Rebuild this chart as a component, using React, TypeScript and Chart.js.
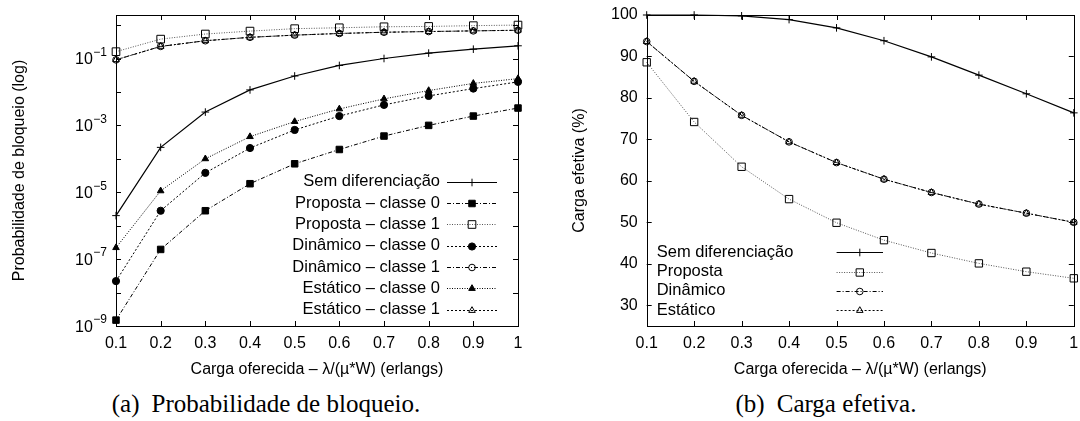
import React, { useEffect, useRef } from 'react';
import { Chart, registerables } from 'chart.js';
import { drawPoint } from 'chart.js/helpers';

Chart.register(...registerables);

const FONT = '"Liberation Sans", Arial, Helvetica, sans-serif';
const SERIF = '"Liberation Serif", "Times New Roman", Times, serif';

// ---------- data ----------
const cargaOferecida = [0.1, 0.2, 0.3, 0.4, 0.5, 0.6, 0.7, 0.8, 0.9, 1.0];
const xTickValues = [0.1, 0.2, 0.3, 0.4, 0.5, 0.6, 0.7, 0.8, 0.9, 1.0];
const bloqLabelExponents = [-9, -7, -5, -3, -1];
const bloqTickExponents = [-9, -8, -7, -6, -5, -4, -3, -2, -1, 0];
const cargaTickValues = [30, 40, 50, 60, 70, 80, 90, 100];

// (a) Probabilidade de bloqueio
const semDifBloqueio = [2.0e-6, 2.2e-4, 2.5e-3, 1.15e-2, 3.0e-2, 6.2e-2, 0.1, 0.145, 0.19, 0.24];
const propostaC0Bloqueio = [1.5e-9, 1.95e-7, 2.8e-6, 1.8e-5, 7.1e-5, 1.9e-4, 4.8e-4, 1.0e-3, 1.9e-3, 3.3e-3];
const propostaC1Bloqueio = [0.16, 0.38, 0.54, 0.66, 0.78, 0.83, 0.89, 0.91, 0.96, 1.0];
const dinamicoC0Bloqueio = [2.2e-8, 2.8e-6, 3.8e-5, 2.1e-4, 7.3e-4, 1.9e-3, 4.1e-3, 7.6e-3, 1.26e-2, 2.0e-2];
const dinamicoC1Bloqueio = [0.091, 0.23, 0.34, 0.43, 0.5, 0.56, 0.61, 0.64, 0.67, 0.7];
const estaticoC0Bloqueio = [2.2e-7, 1.1e-5, 1.0e-4, 4.6e-4, 1.3e-3, 3.1e-3, 6.2e-3, 1.1e-2, 1.8e-2, 2.5e-2];
const estaticoC1Bloqueio = [0.092, 0.23, 0.34, 0.43, 0.5, 0.56, 0.61, 0.64, 0.67, 0.7];

const legendA = [
  'Sem diferenciação',
  'Proposta – classe 0',
  'Proposta – classe 1',
  'Dinâmico – classe 0',
  'Dinâmico – classe 1',
  'Estático – classe 0',
  'Estático – classe 1',
];

// (b) Carga efetiva
const semDifCarga = [100, 100, 99.8, 98.9, 96.9, 93.8, 89.9, 85.5, 81.0, 76.4];
const propostaCarga = [88.6, 74.2, 63.4, 55.6, 49.9, 45.7, 42.6, 40.1, 38.1, 36.5];
const dinamicoCarga = [93.6, 84.0, 75.8, 69.4, 64.4, 60.4, 57.2, 54.4, 52.2, 50.0];
const estaticoCarga = [93.6, 84.0, 75.8, 69.4, 64.4, 60.4, 57.2, 54.4, 52.2, 50.0];

const legendB = ['Sem diferenciação', 'Proposta', 'Dinâmico', 'Estático'];

const xTitle = 'Carga oferecida – λ/(µ*W) (erlangs)';

// ---------- helpers ----------
const pts = (ys: number[]) => cargaOferecida.map((x, i) => ({ x, y: ys[i] }));

type Style = {
  dash: number[];
  color: string;
  width: number;
  point: string;
  radius: number;
  filled: boolean;
};

const ds = (label: string, ys: number[], s: Style) => ({
  label,
  data: pts(ys),
  borderColor: s.color,
  borderWidth: s.width,
  borderDash: s.dash,
  pointStyle: s.point,
  pointRadius: s.radius,
  pointHoverRadius: s.radius,
  pointBorderWidth: 1,
  pointBorderColor: '#000',
  pointBackgroundColor: s.filled ? '#000' : 'rgba(0,0,0,0)',
  tension: 0,
  fill: false,
  clip: false,
});

type DecorOpts = {
  xTicks: number[];
  yTicks: number[];
  tickLen: number;
  logLabels?: number[];
  legend: {
    align: 'left' | 'right';
    textX: number;
    lineX0: number;
    lineX1: number;
    rowY0: number;
    rowStep: number;
    font: number;
  };
};

const makeDecor = (o: DecorOpts) => ({
  id: 'gnuplotDecor',
  afterDatasetsDraw(chart: any) {
    const { ctx, chartArea: a, scales } = chart;
    const xs = scales.x;
    const ys = scales.y;
    ctx.save();
    ctx.strokeStyle = '#000';
    ctx.lineWidth = 1;
    ctx.setLineDash([]);
    const L = o.tickLen;
    ctx.beginPath();
    for (const v of o.xTicks) {
      const px = Math.round(xs.getPixelForValue(v)) + 0.5;
      ctx.moveTo(px, a.bottom);
      ctx.lineTo(px, a.bottom - L);
      ctx.moveTo(px, a.top);
      ctx.lineTo(px, a.top + L);
    }
    for (const v of o.yTicks) {
      const py = Math.round(ys.getPixelForValue(v)) + 0.5;
      ctx.moveTo(a.left, py);
      ctx.lineTo(a.left + L, py);
      ctx.moveTo(a.right, py);
      ctx.lineTo(a.right - L, py);
    }
    ctx.stroke();
    ctx.strokeRect(Math.round(a.left) + 0.5, Math.round(a.top) + 0.5, Math.round(a.right - a.left), Math.round(a.bottom - a.top));

    // log tick labels 10^e
    if (o.logLabels) {
      ctx.fillStyle = '#000';
      ctx.textBaseline = 'middle';
      for (const e of o.logLabels) {
        const py = ys.getPixelForValue(Math.pow(10, e));
        const exp = '−' + String(-e);
        ctx.font = `12px ${FONT}`;
        const ew = ctx.measureText(exp).width;
        const right = a.left - 9;
        ctx.textAlign = 'left';
        ctx.fillText(exp, right - ew, py - 6);
        ctx.font = `16px ${FONT}`;
        ctx.textAlign = 'right';
        ctx.fillText('10', right - ew - 0.5, py + 1.5);
      }
    }

    // gnuplot style legend
    const lg = o.legend;
    chart.data.datasets.forEach((d: any, i: number) => {
      const y = lg.rowY0 + i * lg.rowStep;
      ctx.fillStyle = '#000';
      ctx.font = `${lg.font}px ${FONT}`;
      ctx.textBaseline = 'middle';
      ctx.textAlign = lg.align;
      ctx.fillText(d.label, lg.textX, y);
      ctx.save();
      ctx.strokeStyle = d.borderColor;
      ctx.lineWidth = d.borderWidth;
      ctx.setLineDash(d.borderDash || []);
      ctx.beginPath();
      ctx.moveTo(lg.lineX0, Math.round(y) + 0.5);
      ctx.lineTo(lg.lineX1, Math.round(y) + 0.5);
      ctx.stroke();
      ctx.setLineDash([]);
      ctx.strokeStyle = '#000';
      ctx.fillStyle = d.pointBackgroundColor;
      ctx.lineWidth = 1;
      drawPoint(ctx, { pointStyle: d.pointStyle, radius: d.pointRadius, rotation: 0, borderWidth: 1 } as any, (lg.lineX0 + lg.lineX1) / 2, Math.round(y) + 0.5);
      ctx.restore();
    });
    ctx.restore();
  },
});

const tickFmt = (v: number) => String(Math.round(v * 10) / 10);

// ---------- chart components ----------
function BloqueioChart() {
  const ref = useRef<HTMLCanvasElement | null>(null);
  useEffect(() => {
    if (!ref.current) return;
    const chart = new Chart(ref.current, {
      type: 'line',
      data: {
        datasets: [
          ds(legendA[0], semDifBloqueio, { dash: [], color: '#000', width: 1.2, point: 'cross', radius: 3.8, filled: false }),
          ds(legendA[1], propostaC0Bloqueio, { dash: [4, 2, 1, 2], color: '#000', width: 1, point: 'rect', radius: 4.6, filled: true }),
          ds(legendA[2], propostaC1Bloqueio, { dash: [1, 1.5], color: '#555', width: 1, point: 'rect', radius: 5.4, filled: false }),
          ds(legendA[3], dinamicoC0Bloqueio, { dash: [2, 2], color: '#000', width: 1, point: 'circle', radius: 3.6, filled: true }),
          ds(legendA[4], dinamicoC1Bloqueio, { dash: [4, 2, 1, 2], color: '#000', width: 1, point: 'circle', radius: 3.3, filled: false }),
          ds(legendA[5], estaticoC0Bloqueio, { dash: [1, 1.5], color: '#000', width: 1, point: 'triangle', radius: 3.8, filled: true }),
          ds(legendA[6], estaticoC1Bloqueio, { dash: [2, 2], color: '#000', width: 1, point: 'triangle', radius: 3.8, filled: false }),
        ],
      },
      options: {
        responsive: false,
        animation: false,
        events: [],
        layout: { padding: { top: 15, right: 22, left: 0, bottom: 0 } },
        plugins: { legend: { display: false }, tooltip: { enabled: false } },
        scales: {
          x: {
            type: 'linear',
            min: 0.1,
            max: 1.0,
            afterBuildTicks: (s: any) => { s.ticks = xTickValues.map((value) => ({ value })); },
            afterFit: (s: any) => { s.height = 64; s.paddingLeft = 0; s.paddingRight = 0; },
            grid: { display: false, drawTicks: false },
            border: { display: false },
            ticks: { padding: 8, color: '#000', font: { family: FONT, size: 16 }, maxRotation: 0, autoSkip: false, callback: (v: any) => tickFmt(Number(v)) },
            title: { display: true, text: xTitle, color: '#000', font: { family: FONT, size: 16 }, padding: { top: 0, bottom: 11 } },
          },
          y: {
            type: 'logarithmic',
            min: 1e-9,
            max: 2,
            afterBuildTicks: (s: any) => { s.ticks = bloqLabelExponents.map((e) => ({ value: Math.pow(10, e) })); },
            afterFit: (s: any) => { s.width = 116; s.paddingTop = 0; s.paddingBottom = 0; },
            grid: { display: false, drawTicks: false },
            border: { display: false },
            ticks: { display: false },
            title: { display: true, text: 'Probabilidade de bloqueio (log)', color: '#000', font: { family: FONT, size: 16 }, padding: { top: 10, bottom: 0 } },
          },
        },
      },
      plugins: [
        makeDecor({
          xTicks: xTickValues,
          yTicks: bloqTickExponents.map((e) => Math.pow(10, e)),
          tickLen: 5,
          logLabels: bloqLabelExponents,
          legend: { align: 'right', textX: 440, lineX0: 447, lineX1: 497, rowY0: 181.7, rowStep: 21.35, font: 16.5 },
        }),
      ],
    } as any);
    return () => chart.destroy();
  }, []);
  return <canvas ref={ref} width={540} height={390} style={{ display: 'block', position: 'absolute', left: 0, top: 0 }} />;
}

function CargaChart() {
  const ref = useRef<HTMLCanvasElement | null>(null);
  useEffect(() => {
    if (!ref.current) return;
    const chart = new Chart(ref.current, {
      type: 'line',
      data: {
        datasets: [
          ds(legendB[0], semDifCarga, { dash: [], color: '#000', width: 1.2, point: 'cross', radius: 3.8, filled: false }),
          ds(legendB[1], propostaCarga, { dash: [1, 1.5], color: '#555', width: 1, point: 'rect', radius: 5.2, filled: false }),
          ds(legendB[2], dinamicoCarga, { dash: [4, 2, 1, 2], color: '#000', width: 1, point: 'circle', radius: 3.3, filled: false }),
          ds(legendB[3], estaticoCarga, { dash: [2, 2], color: '#000', width: 1, point: 'triangle', radius: 3.8, filled: false }),
        ],
      },
      options: {
        responsive: false,
        animation: false,
        events: [],
        layout: { padding: { top: 15, right: 3.5, left: 0, bottom: 0 } },
        plugins: { legend: { display: false }, tooltip: { enabled: false } },
        scales: {
          x: {
            type: 'linear',
            min: 0.1,
            max: 1.0,
            afterBuildTicks: (s: any) => { s.ticks = xTickValues.map((value) => ({ value })); },
            afterFit: (s: any) => { s.height = 64; s.paddingLeft = 0; s.paddingRight = 0; },
            grid: { display: false, drawTicks: false },
            border: { display: false },
            ticks: { padding: 8, color: '#000', font: { family: FONT, size: 16 }, maxRotation: 0, autoSkip: false, callback: (v: any) => tickFmt(Number(v)) },
            title: { display: true, text: xTitle, color: '#000', font: { family: FONT, size: 16 }, padding: { top: 0, bottom: 11 } },
          },
          y: {
            type: 'linear',
            min: 25,
            max: 100,
            afterBuildTicks: (s: any) => { s.ticks = cargaTickValues.map((value) => ({ value })); },
            afterFit: (s: any) => { s.width = 106.7; s.paddingTop = 0; s.paddingBottom = 0; },
            grid: { display: false, drawTicks: false },
            border: { display: false },
            ticks: { padding: 9, color: '#000', font: { family: FONT, size: 16 }, callback: (v: any) => String(v) },
            title: { display: true, text: 'Carga efetiva (%)', color: '#000', font: { family: FONT, size: 16 }, padding: { top: 30.4, bottom: 0 } },
          },
        },
      },
      plugins: [
        makeDecor({
          xTicks: xTickValues,
          yTicks: cargaTickValues,
          tickLen: 5,
          legend: { align: 'left', textX: 116.7, lineX0: 296.6, lineX1: 343, rowY0: 252.3, rowStep: 19.3, font: 16.5 },
        }),
      ],
    } as any);
    return () => chart.destroy();
  }, []);
  return <canvas ref={ref} width={540} height={390} style={{ display: 'block', position: 'absolute', left: 540, top: 0 }} />;
}

const captionStyle: React.CSSProperties = {
  position: 'absolute',
  top: 391,
  width: 400,
  textAlign: 'center',
  fontFamily: SERIF,
  fontSize: 25,
  lineHeight: '26px',
  color: '#000',
  whiteSpace: 'nowrap',
};

export default function App() {
  return (
    <div style={{ position: 'absolute', left: 0, top: 0, width: 1080, height: 421, background: '#fff', overflow: 'hidden' }}>
      <BloqueioChart />
      <CargaChart />
      <div style={{ ...captionStyle, left: 266 - 200 }}>
        (a)<span style={{ marginLeft: 12 }}>Probabilidade de bloqueio.</span>
      </div>
      <div style={{ ...captionStyle, left: 826 - 200 }}>
        (b)<span style={{ marginLeft: 12 }}>Carga efetiva.</span>
      </div>
    </div>
  );
}
